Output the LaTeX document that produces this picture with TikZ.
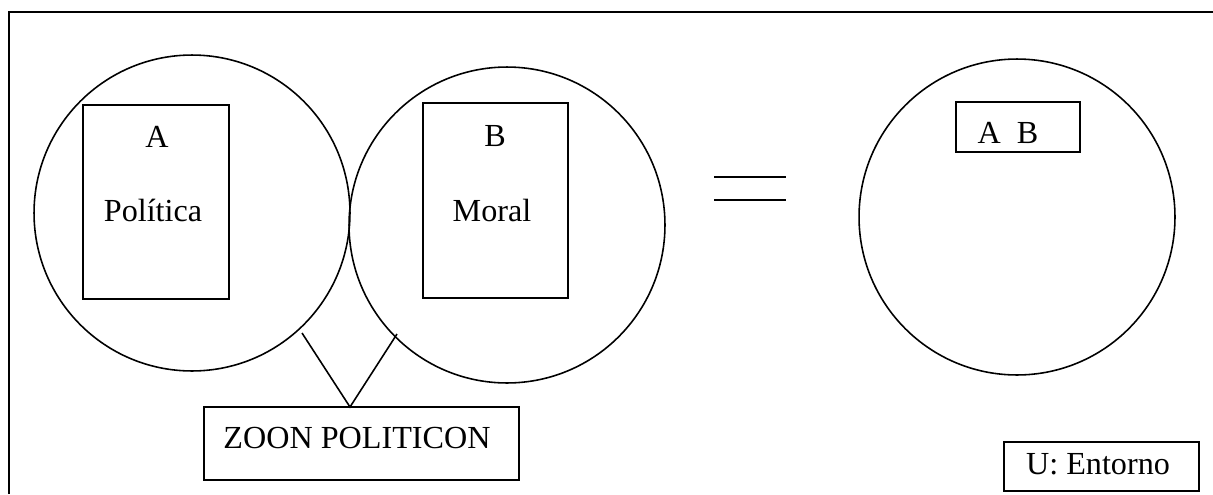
\documentclass[tikz,border=0pt]{standalone}
\usepackage{fontspec}
\setmainfont{Liberation Serif}
\usetikzlibrary{positioning}

\begin{document}
\begin{tikzpicture}[x=0.02cm, y=-0.02cm, line width=0.9pt,
    ring/.style={circle, draw, minimum size=6.32cm, inner sep=0pt},
    box/.style={rectangle, draw, inner sep=0pt},
    lbl/.style={inner sep=0pt, font=\fontsize{18.3}{21}\selectfont}]
        \useasboundingbox (0, 0) rectangle (1213, 494);

        % Frame (cut at right and bottom)
        \draw[line width=1.1pt] (9, 494) -- (9, 12) -- (1213, 12);

        % Left side: Politica and Moral
        \node[ring] (pol) at (192, 213) {};
        \node[ring] (mor) at (507, 225) {};
        \node[box, minimum width=2.92cm, minimum height=3.88cm] (boxa) at (156, 202) {};
        \node[box, minimum width=2.9cm, minimum height=3.9cm] (boxb) at (495.5, 200.5) {};
        \node[lbl] (la) at (157, 137) {A};
        \node[lbl] (lpol) at (153, 210) {Política};
        \node[lbl] (lb) at (495, 136) {B};
        \node[lbl] (lmor) at (492, 210) {Moral};

        % Zoon politicon and its V
        \node[box, minimum width=6.3cm, minimum height=1.46cm] (zoon) at (361.5, 443.5) {};
        \node[lbl] (lzoon) at (357, 438) {ZOON POLITICON};
        \coordinate (apex) at (350, 407);
        \coordinate (vl) at (302, 333);
        \coordinate (vr) at (397, 334);
        \draw (vl) -- (apex) -- (vr);

        % Equals sign
        \coordinate (e1) at (714, 177);
        \coordinate (e2) at (786, 177);
        \coordinate (e3) at (714, 200);
        \coordinate (e4) at (786, 200);
        \draw (e1) -- (e2);
        \draw (e3) -- (e4);

        % Right side: A B together
        \node[ring] (uni) at (1017, 217) {};
        \node[box, minimum width=2.48cm, minimum height=1cm] (boxab) at (1018, 127) {};
        \node[lbl] (lab) at (1008, 133) {A\ \ B};

        % Legend
        \node[box, minimum width=3.9cm, minimum height=0.98cm] (leg) at (1101.5, 466.5) {};
        \node[lbl] (lleg) at (1098, 464) {U: Entorno};
    \end{tikzpicture}
\end{document}
